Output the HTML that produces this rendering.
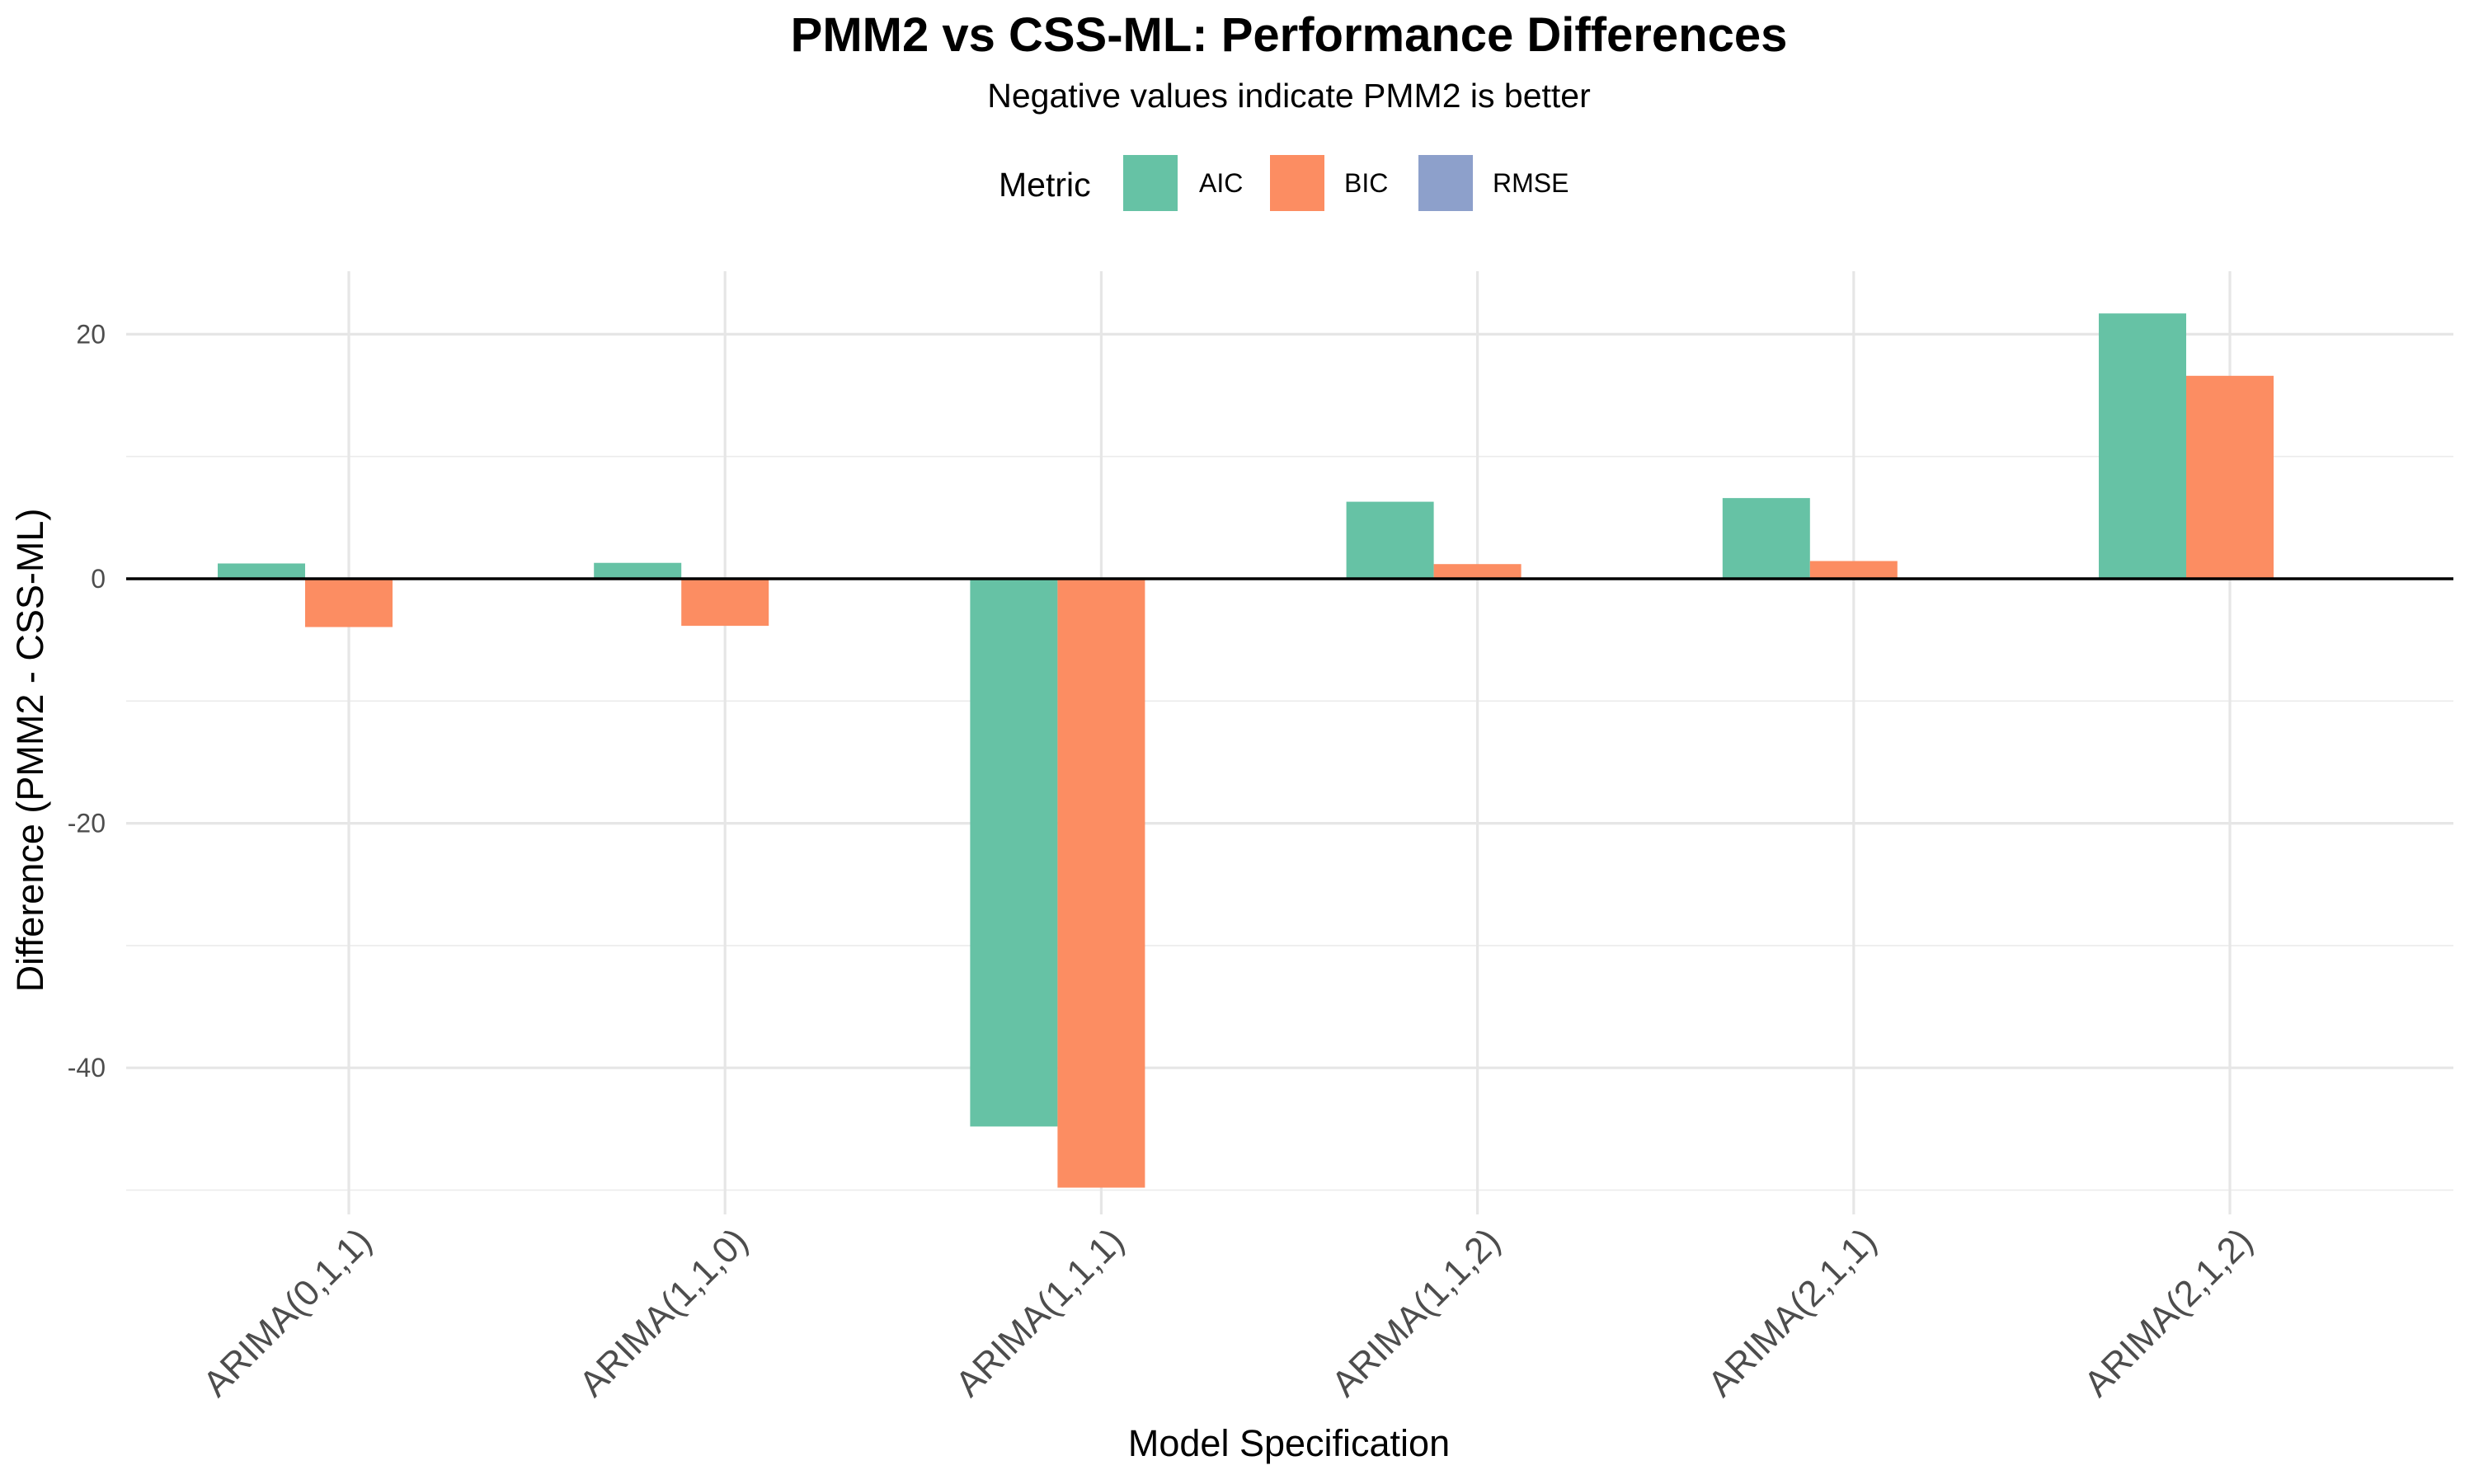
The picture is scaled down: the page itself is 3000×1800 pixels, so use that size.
<!DOCTYPE html>
<html><head><meta charset="utf-8"><style>
html,body{margin:0;padding:0;background:#fff}
svg{display:block;font-family:"Liberation Sans",sans-serif}
</style></head><body>
<svg id="chart" width="3000" height="1800" viewBox="0 0 3000 1800">
<text x="1563" y="62" text-anchor="middle" font-size="58" font-weight="bold" fill="#000">PMM2 vs CSS-ML: Performance Differences</text>
<text x="1563" y="130" text-anchor="middle" font-size="41" fill="#000">Negative values indicate PMM2 is better</text>
<g>
<text x="1211" y="238" font-size="41" fill="#000">Metric</text>
<rect x="1362" y="188" width="66" height="68" fill="#66c2a5"/>
<text x="1454" y="233" font-size="32">AIC</text>
<rect x="1540" y="188" width="66" height="68" fill="#fc8d62"/>
<text x="1630" y="233" font-size="32">BIC</text>
<rect x="1720" y="188" width="66" height="68" fill="#8da0cb"/>
<text x="1810" y="233" font-size="32">RMSE</text>
</g>
<g id="grid"></g>
<g id="bars"></g>
<g id="axes"></g>
<text transform="translate(52,910) rotate(-90)" text-anchor="middle" font-size="45" fill="#000">Difference (PMM2 - CSS-ML)</text>
<text x="1563" y="1766" text-anchor="middle" font-size="45" fill="#000">Model Specification</text>
</svg>
<script>
const categories = ["ARIMA(0,1,1)","ARIMA(1,1,0)","ARIMA(1,1,1)","ARIMA(1,1,2)","ARIMA(2,1,1)","ARIMA(2,1,2)"];
const aicValues = [1.25, 1.3, -44.8, 6.3, 6.6, 21.7];
const bicValues = [-3.95, -3.85, -49.8, 1.2, 1.45, 16.6];
const rmseValues = [0.01, 0.01, 0.01, 0.01, 0.01, 0.01];
const yTicks = [20, 0, -20, -40];
const yMinor = [10, -10, -30, -50];

const NS = "http://www.w3.org/2000/svg";
const plotLeft = 153, plotRight = 2975, plotTop = 329, plotBottom = 1473;
const x0 = 423, step = 456.2;
const zeroY = 702, perUnit = 14.83;
function xScale(i){ return x0 + i*step; }
function yScale(v){ return zeroY - v*perUnit; }
function mk(tag, attrs, parent){ const e=document.createElementNS(NS,tag); for(const k in attrs) e.setAttribute(k,attrs[k]); parent.appendChild(e); return e; }
const grid=document.getElementById('grid'), bars=document.getElementById('bars'), axes=document.getElementById('axes');
yMinor.forEach(v=>{
  const l=mk('line',{x1:plotLeft,x2:plotRight,y1:yScale(v),y2:yScale(v),stroke:'#ebebeb','stroke-width':1.6},grid);
  
  
});
yTicks.forEach(v=>{
  const l=mk('line',{x1:plotLeft,x2:plotRight,y1:yScale(v),y2:yScale(v),stroke:'#e6e6e6','stroke-width':3.2},grid);
  
  
  const t=mk('text',{x:128,y:yScale(v)+11,'text-anchor':'end','font-size':32,fill:'#4d4d4d'},axes);
  t.textContent=String(v);
  
  
});
categories.forEach((c,i)=>{
  const l=mk('line',{x1:xScale(i),x2:xScale(i),y1:plotTop,y2:plotBottom,stroke:'#e6e6e6','stroke-width':3.2},grid);
  
  
});
const bw = 106;
const series = [[aicValues,'#66c2a5','aic'],[bicValues,'#fc8d62','bic'],[rmseValues,'#8da0cb','rmse']];
series.forEach(([vals,col,nm],s)=>{
  vals.forEach((v,i)=>{
    const bx = xScale(i) - 1.5*bw + s*bw;
    const y1 = yScale(Math.max(v,0)), y2 = yScale(Math.min(v,0));
    const r=mk('rect',{x:bx,y:y1,width:bw,height:Math.max(0,y2-y1),fill:col},bars);
    
    
  });
});
const zl=mk('line',{x1:plotLeft,x2:plotRight,y1:zeroY,y2:zeroY,stroke:'#000','stroke-width':3.6},axes);


categories.forEach((c,i)=>{
  const t=mk('text',{transform:`translate(${xScale(i)+30},${1508}) rotate(-45)`,'text-anchor':'end','font-size':44,fill:'#4d4d4d'},axes);
  t.textContent=c;
  
  
});
</script>
</body></html>
